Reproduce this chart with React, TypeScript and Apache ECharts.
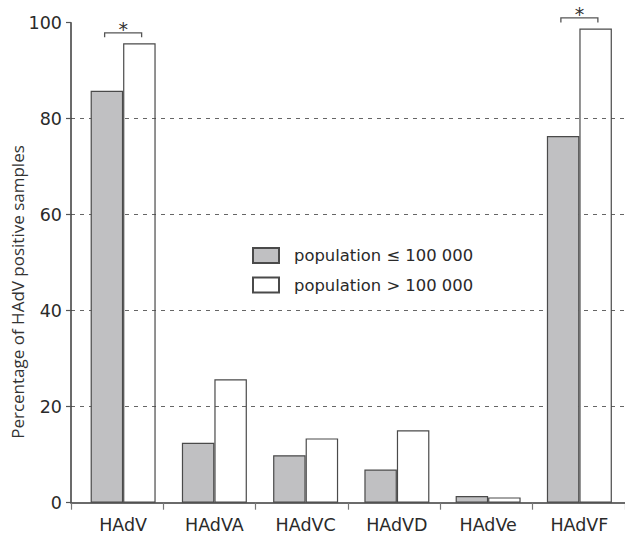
import React, { useEffect, useRef } from "react";
import * as echarts from "echarts";

const categories = ["HAdV", "HAdVA", "HAdVC", "HAdVD", "HAdVe", "HAdVF"];
const smallPop = [85.8, 12.5, 9.9, 6.9, 1.4, 76.4];
const largePop = [95.7, 25.7, 13.4, 15.1, 1.1, 98.8];
const significant = ["HAdV", "HAdVF"];
const seriesNames = ["population \u2264 100 000", "population > 100 000"];
const yTitle = "Percentage of HAdV positive samples";
const yMin = 0;
const yMax = 100;
const yInterval = 20;

const LABEL_FONT = "'DejaVu Sans', sans-serif";

export default function App() {
  const ref = useRef<HTMLDivElement>(null);
  useEffect(() => {
    if (!ref.current) return;
    const chart = echarts.init(ref.current, undefined, { renderer: "svg" });
    const catW = 92.6;
    const gridTop = 22.7;
    const gridH = 480;
    const option: any = {
      animation: false,
      backgroundColor: "#ffffff",
      grid: [
        { left: 77.5, top: gridTop, width: catW * 6, height: gridH },
        { left: 71, top: gridTop, width: catW * 6, height: gridH },
      ],
      legend: {
        orient: "vertical",
        left: 247,
        top: 242,
        itemWidth: 26,
        itemHeight: 15,
        itemGap: 12.5,
        icon: "rect",
        textStyle: {
          fontFamily: LABEL_FONT,
          fontSize: 16.4,
          color: "#2a2a2a",
          padding: [0, 0, 0, 10],
        },
        data: seriesNames,
      },
      xAxis: [
        {
          type: "category",
          gridIndex: 0,
          data: categories,
          axisLine: { show: false },
          axisTick: { show: false },
          axisLabel: {
            fontFamily: LABEL_FONT,
            fontSize: 17.5,
            color: "#2a2a2a",
            margin: 13,
          },
        },
        {
          type: "category",
          gridIndex: 1,
          data: categories,
          boundaryGap: true,
          axisLine: { lineStyle: { color: "#3a3a3a", width: 1.5 } },
          axisTick: {
            show: true,
            interval: 0,
            length: 7,
            lineStyle: { color: "#777", width: 1.2 },
          },
          axisLabel: { show: false },
        },
      ],
      yAxis: [
        {
          type: "value",
          gridIndex: 0,
          min: yMin,
          max: yMax,
          interval: yInterval,
          show: false,
          splitLine: { show: false },
        },
        {
          type: "value",
          gridIndex: 1,
          min: yMin,
          max: yMax,
          interval: yInterval,
          axisLine: { show: true, lineStyle: { color: "#3a3a3a", width: 1.5 } },
          axisTick: { show: true, length: 5, lineStyle: { color: "#555", width: 1.2 } },
          axisLabel: {
            fontFamily: LABEL_FONT,
            fontSize: 17.5,
            color: "#2a2a2a",
            margin: 9,
          },
          splitLine: {
            show: true,
            showMinLine: false,
            showMaxLine: false,
            lineStyle: { color: "#666", type: [4, 5], width: 1 },
          },
        },
      ],
      series: [
        {
          name: seriesNames[0],
          type: "bar",
          xAxisIndex: 0,
          yAxisIndex: 0,
          data: smallPop,
          barWidth: 32.5,
          barGap: "0%",
          itemStyle: { color: "#c0c0c2", borderColor: "#4a4a4a", borderWidth: 1.2 },
        },
        {
          name: seriesNames[1],
          type: "bar",
          xAxisIndex: 0,
          yAxisIndex: 0,
          data: largePop,
          barWidth: 32.5,
          barGap: "0%",
          itemStyle: { color: "rgba(255,255,255,0)", borderColor: "#4a4a4a", borderWidth: 1.2 },
        },
      ],
    };
    chart.setOption(option);

    const graphics: any[] = [
      {
        type: "text",
        x: 17,
        y: 292,
        rotation: Math.PI / 2,
        style: {
          text: yTitle,
          fontFamily: "'Open Sans', sans-serif",
          fontSize: 17,
          fill: "#333",
          textAlign: "center",
          textVerticalAlign: "middle",
        },
      },
    ];
    significant.forEach((cat) => {
      const i = categories.indexOf(cat);
      const top = Math.max(smallPop[i], largePop[i]);
      const c = chart.convertToPixel({ xAxisIndex: 0, yAxisIndex: 0 }, [i, top]) as number[];
      const cx = c[0];
      const yLeg = c[1] - 6;
      const yTop = c[1] - 10.5;
      graphics.push({
        type: "polyline",
        shape: {
          points: [
            [cx - 18.5, yLeg],
            [cx - 18.5, yTop],
            [cx + 18.5, yTop],
            [cx + 18.5, yLeg],
          ],
        },
        style: { stroke: "#555", lineWidth: 1.3, fill: null },
      });
      graphics.push({
        type: "text",
        x: cx,
        y: yTop - 4,
        style: {
          text: "*",
          fontFamily: LABEL_FONT,
          fontSize: 19,
          fill: "#333",
          textAlign: "center",
          textVerticalAlign: "middle",
        },
      });
    });
    chart.setOption({ graphic: graphics });

    return () => chart.dispose();
  }, []);
  return (
    <div
      ref={ref}
      style={{ position: "absolute", left: 0, top: 0, width: 625, height: 534 }}
    />
  );
}
